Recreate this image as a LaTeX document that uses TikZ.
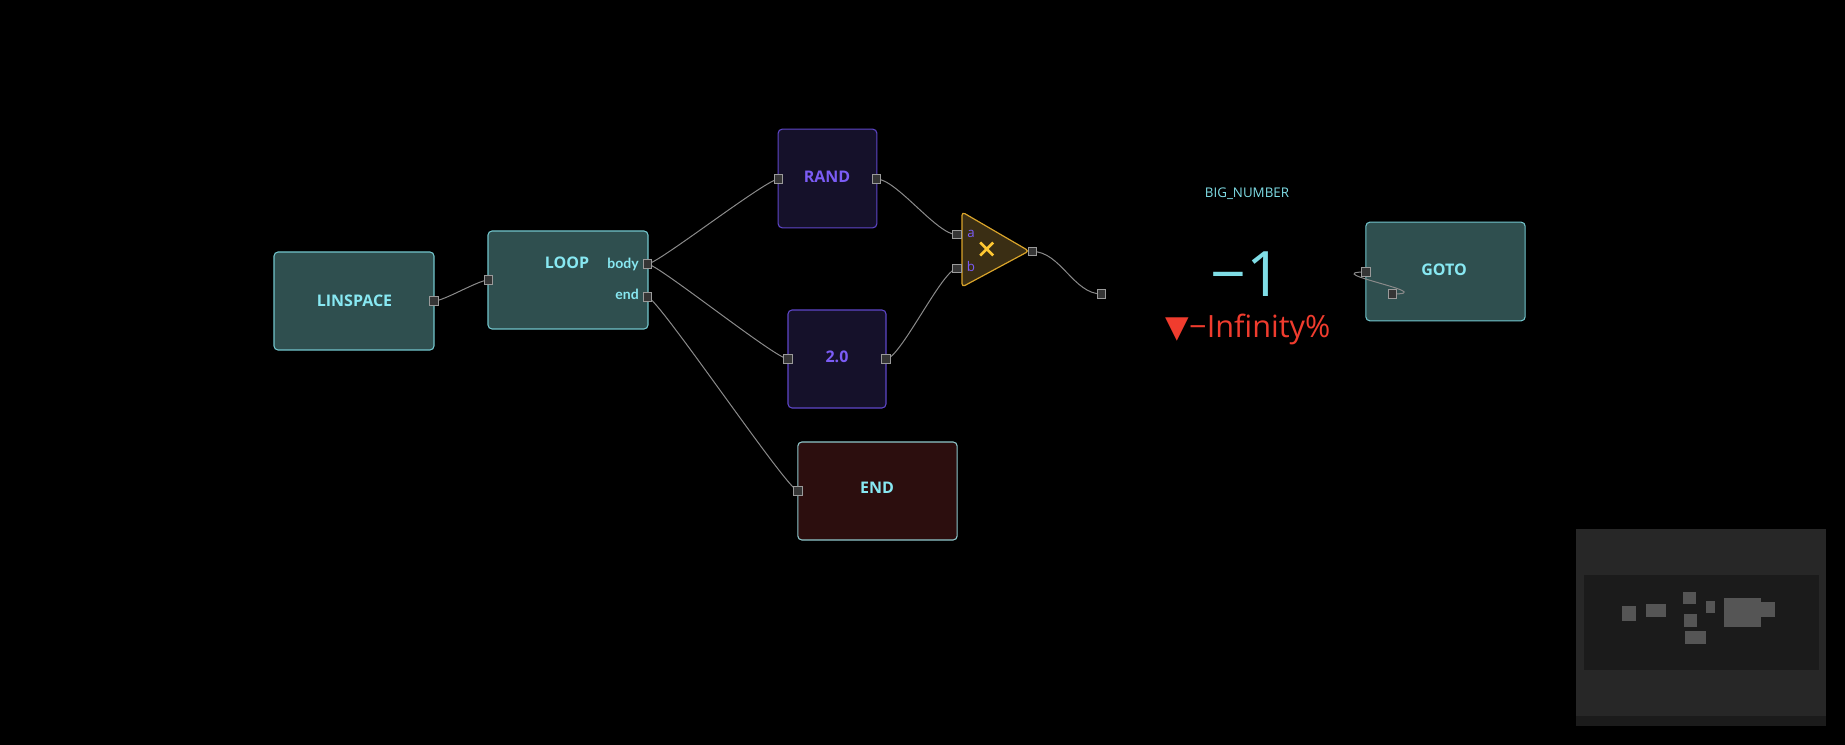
\documentclass[tikz,border=0pt]{standalone}
\usepackage{fontspec}
\setmainfont{Open Sans}
\newfontfamily\latofont{Lato}
\newfontfamily\dejavufont{DejaVu Sans}
\pgfdeclarelayer{boxes}
\pgfdeclarelayer{wires}
\pgfsetlayers{boxes,wires,main}
\definecolor{tealfill}{HTML}{2F4F4F}
\definecolor{tealline}{HTML}{72C5CC}
\definecolor{tealtext}{HTML}{88E8F2}
\definecolor{purfill}{HTML}{15112A}
\definecolor{purline}{HTML}{5E46C8}
\definecolor{purtext}{HTML}{7B5CF5}
\definecolor{trifill}{HTML}{3A2E14}
\definecolor{triline}{HTML}{D9A42A}
\definecolor{xcol}{HTML}{FFC832}
\definecolor{endfill}{HTML}{2C0E0E}
\definecolor{endline}{HTML}{8FC8CC}
\definecolor{portfill}{HTML}{353535}
\definecolor{portline}{HTML}{9A9A9A}
\definecolor{wirecol}{HTML}{8A8A8A}
\definecolor{redtext}{HTML}{F03C2E}
\definecolor{bigtext}{HTML}{7FDDE6}
\definecolor{mapouter}{HTML}{272727}
\definecolor{mapinner}{HTML}{1B1B1B}
\definecolor{mapblock}{HTML}{555555}
\tikzset{
  x=0.75pt, y=-0.75pt,
  box/.style={draw, rounded corners=3pt, line width=0.8pt, inner sep=0pt},
  tealbox/.style={box, fill=tealfill, draw=tealline},
  purbox/.style={box, fill=purfill, draw=purline},
  endbox/.style={box, fill=endfill, draw=endline},
  teallabel/.style={text=tealtext, font=\bfseries\fontsize{12}{14}\selectfont, inner sep=0pt},
  purlabel/.style={text=purtext, font=\bfseries\fontsize{12}{14}\selectfont, inner sep=0pt},
  portlabel/.style={text=tealtext, font=\latofont\bfseries\fontsize{10.5}{12}\selectfont, inner sep=0pt, anchor=base east},
  inlabel/.style={text=purtext, font=\fontsize{10}{12}\selectfont, inner sep=0pt},
  port/.style={draw=portline, fill=portfill, line width=0.75pt, minimum size=6.4pt, inner sep=0pt},
  wire/.style={draw=wirecol, line width=0.75pt},
  mapblk/.style={fill=mapblock},
}
\begin{document}
\begin{tikzpicture}
\begin{pgfonlayer}{boxes}
\fill[black] (0,0) rectangle (1845,745);
\useasboundingbox (0,0) rectangle (1845,745);
% boxes
\node[tealbox, minimum width=120pt, minimum height=73.5pt] (linspace) at (354,301) {};
\node[tealbox, minimum width=120pt, minimum height=73.5pt] (loop) at (568,280) {};
\node[purbox, minimum width=74pt, minimum height=74pt] (rand) at (827.5,178.5) {};
\node[purbox, minimum width=73.5pt, minimum height=73.5pt] (two) at (837,359) {};
\node[endbox, minimum width=119.5pt, minimum height=73.5pt] (endnode) at (877.5,491) {};
\node[tealbox, minimum width=119.5pt, minimum height=74pt] (goto) at (1445.5,271.5) {};
% multiply triangle
\draw[fill=trifill, draw=triline, line width=0.9pt, rounded corners=2.5pt] (962,212) -- (1029,251) -- (962,287) -- cycle;
\coordinate (tri) at (986,250);
% minimap
\fill[mapouter] (1576,529) rectangle (1826,726);
\fill[mapinner] (1576,716) rectangle (1826,726);
\fill[mapinner] (1584,575) rectangle (1819,670);
\fill[mapblk] (1622,606) rectangle (1636,621);
\fill[mapblk] (1646,604) rectangle (1666,617);
\fill[mapblk] (1683,592) rectangle (1696,604);
\fill[mapblk] (1684,614) rectangle (1697,627);
\fill[mapblk] (1685,631) rectangle (1706,644);
\fill[mapblk] (1706,601) rectangle (1715,613);
\fill[mapblk] (1724,598) rectangle (1761,627);
\fill[mapblk] (1760,602) rectangle (1775,617);
\end{pgfonlayer}

% labels
\node[teallabel] (linspacelabel) at (354.5,301) {LINSPACE};
\node[teallabel] (looplabel) at (567,263) {LOOP};
\node[portlabel] (bodylabel) at (639,268.5) {body};
\node[portlabel] (endlabel) at (639,300) {end};
\node[purlabel] (randlabel) at (827,177) {RAND};
\node[purlabel] (twolabel) at (837,357) {2.0};
\node[teallabel] (endnodelabel) at (877,488) {END};
\node[teallabel] (gotolabel) at (1444,269.5) {GOTO};
\node[inlabel] (alabel) at (971,234) {a};
\node[inlabel] (blabel) at (971,267) {b};
\draw[xcol, line width=1.9pt] (980.2,242.5) -- (993.2,255.5) (980.2,255.5) -- (993.2,242.5);

\node[text=bigtext, font=\fontsize{10}{12}\selectfont, inner sep=0pt, anchor=base] (bigtitle) at (1247,197.5) {BIG\_NUMBER};
\node[text=bigtext, font=\fontsize{47}{50}\selectfont, inner sep=0pt] (bigvalue) at (1246,274) {−1};
\node[text=redtext, font=\fontsize{23}{26}\selectfont, inner sep=0pt, anchor=base] (bigdelta) at (1248,337.5) {{\dejavufont\fontsize{23}{26}\selectfont ▼}−Infinity\%};

% ports
\node[port] (linspace-out) at (434,301) {};
\node[port] (loop-in) at (488.5,280) {};
\node[port] (loop-body) at (647.5,264) {};
\node[port] (loop-end) at (647.5,297) {};
\node[port] (rand-in) at (778.5,179) {};
\node[port] (rand-out) at (876.5,179) {};
\node[port] (two-in) at (788,359) {};
\node[port] (two-out) at (886,359) {};
\node[port] (end-in) at (798,491) {};
\node[port] (tri-a) at (956.8,234.7) {};
\node[port] (tri-b) at (956.8,268.7) {};
\node[port] (tri-out) at (1032.5,251.5) {};
\node[port] (free) at (1101.5,294) {};
\node[port] (goto-in) at (1366,272) {};
\node[port] (goto-p2) at (1392.3,294) {};

% wires
\begin{pgfonlayer}{wires}
\draw[wire] (linspace-out.center) .. controls +(10,0) and +(-10,0) .. (loop-in.center);
\draw[wire] (loop-body.center) .. controls +(10,0) and +(-12,0) .. (rand-in.center);
\draw[wire] (loop-body.center) .. controls +(10,0) and +(-12,0) .. (two-in.center);
\draw[wire] (loop-end.center) .. controls +(10,0) and +(-10,0) .. (end-in.center);
\draw[wire] (rand-out.center) .. controls +(20,0) and +(-20,0) .. (tri-a.center);
\draw[wire] (two-out.center) .. controls +(14,0) and +(-14,0) .. (tri-b.center);
\draw[wire] (tri-out.center) .. controls +(28,0) and +(-28,0) .. (free.center);
\draw[wire] (goto-p2.center) .. controls +(50,0) and +(-50,0) .. (goto-in.center);
\end{pgfonlayer}
\end{tikzpicture}
\end{document}
